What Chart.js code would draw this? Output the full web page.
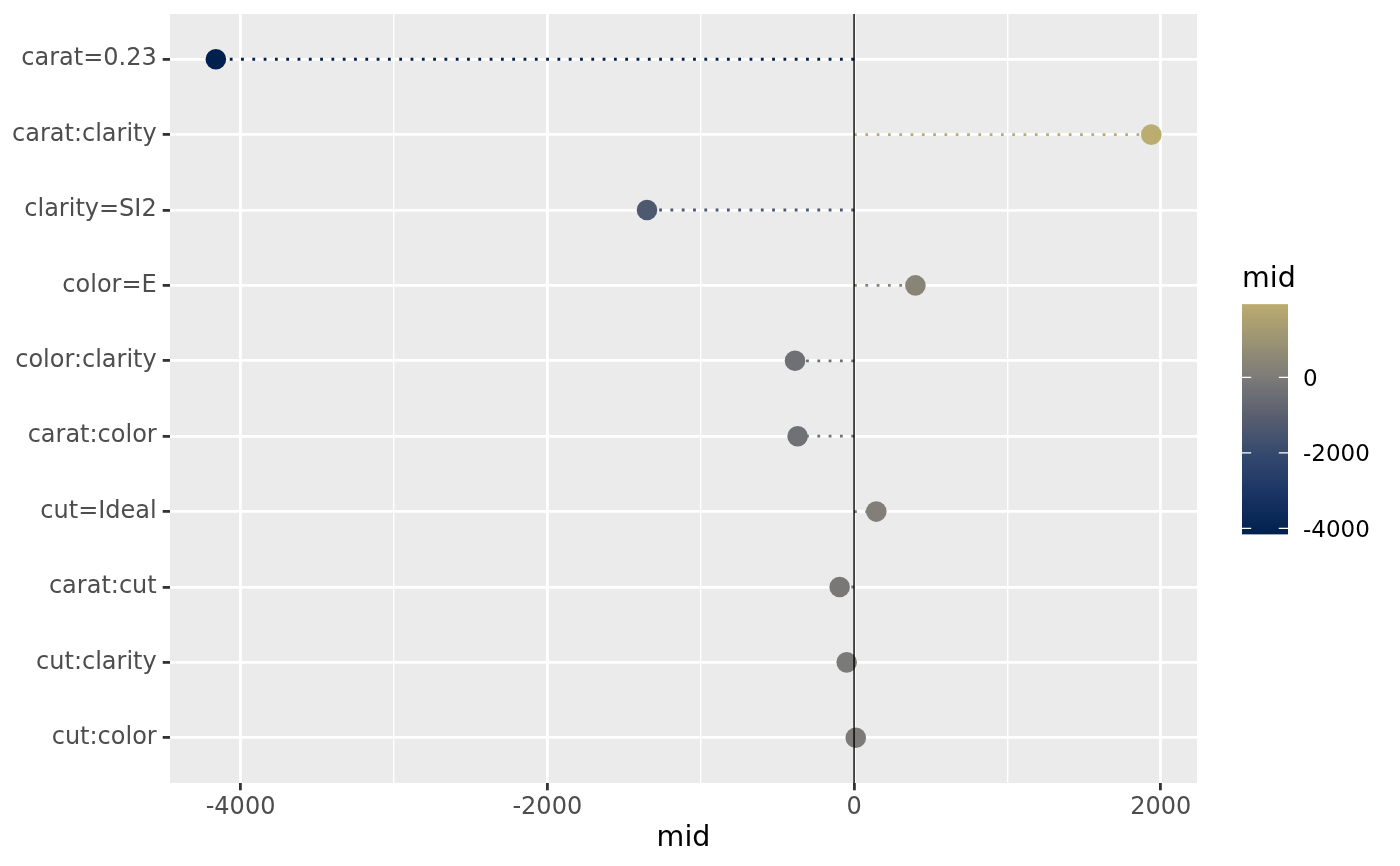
<!DOCTYPE html>
<html>
<head>
<meta charset="utf-8">
<script src="https://cdn.jsdelivr.net/npm/chart.js@4.4.1/dist/chart.umd.min.js"></script>
<style>
html,body{margin:0;padding:0;background:#ffffff;}
#wrap{width:1400px;height:866px;}
</style>
</head>
<body>
<div id="wrap"><canvas id="c" width="1400" height="866"></canvas></div>
<script>
// ---- data ----
const categories = ["carat=0.23","carat:clarity","clarity=SI2","color=E","color:clarity","carat:color","cut=Ideal","carat:cut","cut:clarity","cut:color"];
const midValues = [-4161, 1938, -1350, 400, -385, -368, 145, -94, -48, 11];
const xTickValues = [-4000, -2000, 0, 2000];
const xMinorValues = [-3000, -1000, 1000];
const legendTickValues = [0, -2000, -4000];
const legendTitle = "mid";
const xTitle = "mid";

// ---- colour scale (diverging around 0) ----
const colorStops = [
  [-4161, '#00204D'],
  [-3000, '#1C3665'],
  [-2000, '#354A6E'],
  [-1000, '#5B5F6F'],
  [0, '#7C7B78'],
  [1000, '#9C9473'],
  [1938, '#BBAC6F']
];
function hexToRgb(h){h=h.replace('#','');return [parseInt(h.slice(0,2),16),parseInt(h.slice(2,4),16),parseInt(h.slice(4,6),16)];}
function colorFor(v){
  if (v <= colorStops[0][0]) return colorStops[0][1];
  for (let i=1;i<colorStops.length;i++){
    if (v <= colorStops[i][0]){
      const [v0,c0]=colorStops[i-1],[v1,c1]=colorStops[i];
      const t=(v-v0)/(v1-v0), a=hexToRgb(c0), b=hexToRgb(c1);
      const r=a.map((x,k)=>Math.round(x+(b[k]-x)*t));
      return 'rgb('+r.join(',')+')';
    }
  }
  return colorStops[colorStops.length-1][1];
}

const FONT = "'DejaVu Sans', sans-serif";
const TICK_FONT = 24;
const TITLE_FONT = 28.5;

const pointData = categories.map((c,i)=>({x: midValues[i], y: i}));
const segmentDatasets = categories.map((c,i)=>({
  type: 'scatter',
  showLine: true,
  data: [{x: 0, y: i}, {x: midValues[i], y: i}],
  borderColor: colorFor(midValues[i]),
  borderWidth: 2.8,
  borderDash: [2.8, 8.5],
  borderCapStyle: 'butt',
  pointRadius: 0,
  fill: false,
  order: 2
}));

const panelBg = {
  id: 'panelBg',
  beforeDraw(chart){
    const {ctx, chartArea:a} = chart;
    ctx.save();
    ctx.fillStyle = '#ffffff';
    ctx.fillRect(0,0,chart.width,chart.height);
    ctx.fillStyle = '#EBEBEB';
    ctx.fillRect(a.left, a.top, a.right-a.left, a.bottom-a.top);
    ctx.restore();
  }
};

const extras = {
  id: 'extras',
  afterDraw(chart){
    const {ctx, chartArea:a} = chart;
    ctx.save();
    // x axis title
    ctx.fillStyle = '#000000';
    ctx.font = TITLE_FONT + 'px ' + FONT;
    ctx.textAlign = 'center';
    ctx.textBaseline = 'alphabetic';
    ctx.fillText(xTitle, (a.left + a.right)/2, 846);

    // colour bar legend
    const barLeft = 1242, barW = 46;
    const zeroY = 377.3, pxPerUnit = 75.5/2000;
    const vMin = Math.min(...midValues), vMax = Math.max(...midValues);
    const yTop = zeroY - vMax*pxPerUnit, yBot = zeroY - vMin*pxPerUnit;
    const g = ctx.createLinearGradient(0, yBot, 0, yTop);
    const n = 40;
    for (let k=0;k<=n;k++){
      const v = vMin + (vMax-vMin)*k/n;
      g.addColorStop(k/n, colorFor(v));
    }
    ctx.fillStyle = g;
    ctx.fillRect(barLeft, yTop, barW, yBot-yTop);

    ctx.strokeStyle = '#ffffff';
    ctx.lineWidth = 1.2;
    ctx.font = '23px ' + FONT;
    ctx.textAlign = 'left';
    ctx.textBaseline = 'alphabetic';
    legendTickValues.forEach(v=>{
      const y = zeroY - v*pxPerUnit;
      ctx.beginPath();
      ctx.moveTo(barLeft, y); ctx.lineTo(barLeft+9.2, y);
      ctx.moveTo(barLeft+barW-9.2, y); ctx.lineTo(barLeft+barW, y);
      ctx.stroke();
      ctx.fillStyle = '#000000';
      ctx.fillText(String(v), 1303, y + 0.3645*23);
    });

    ctx.fillStyle = '#000000';
    ctx.font = TITLE_FONT + 'px ' + FONT;
    ctx.fillText(legendTitle, barLeft, 287);
    ctx.restore();
  }
};

new Chart(document.getElementById('c'), {
  type: 'scatter',
  data: {
    datasets: [
      {
        type: 'scatter',
        showLine: true,
        data: [{x: 0, y: -0.6}, {x: 0, y: 9.6}],
        borderColor: '#000000',
        borderWidth: 1.4,
        pointRadius: 0,
        order: 0
      },
      {
        type: 'scatter',
        data: pointData,
        pointRadius: 10.3,
        pointHoverRadius: 10.3,
        pointBackgroundColor: midValues.map(colorFor),
        pointBorderWidth: 0,
        borderWidth: 0,
        order: 1
      },
      ...segmentDatasets
    ]
  },
  options: {
    responsive: false,
    devicePixelRatio: 1,
    animation: false,
    layout: { padding: { top: 14, right: 203, bottom: 0, left: 0 } },
    plugins: { legend: { display: false }, tooltip: { enabled: false } },
    events: [],
    scales: {
      x: {
        type: 'linear',
        min: -4460,
        max: 2236,
        afterBuildTicks: s => { s.ticks = xTickValues.concat(xMinorValues).sort((a,b)=>a-b).map(v=>({value: v})); },
        afterFit: s => { s.height = 83; s.paddingLeft = 0; s.paddingRight = 0; },
        border: { display: false },
        grid: {
          color: '#ffffff',
          lineWidth: c => (xTickValues.includes(c.tick.value) ? 2.8 : 1.4),
          tickColor: c => (xTickValues.includes(c.tick.value) ? '#333333' : 'rgba(0,0,0,0)'),
          tickWidth: 2.8,
          tickLength: 7.3,
          drawTicks: true
        },
        ticks: {
          autoSkip: false,
          maxRotation: 0,
          padding: 3,
          color: '#4D4D4D',
          font: { family: FONT, size: TICK_FONT },
          callback: v => (xTickValues.includes(v) ? String(v) : '')
        }
      },
      y: {
        type: 'linear',
        min: -0.6,
        max: 9.6,
        reverse: true,
        afterBuildTicks: s => { s.ticks = categories.map((c,i)=>({value: i})); },
        afterFit: s => { s.width = 170; s.paddingTop = 0; s.paddingBottom = 0; },
        border: { display: false },
        grid: {
          color: '#ffffff',
          lineWidth: 2.8,
          tickColor: '#333333',
          tickWidth: 2.8,
          tickLength: 7.3
        },
        ticks: {
          autoSkip: false,
          padding: 6,
          color: '#4D4D4D',
          font: { family: FONT, size: TICK_FONT },
          callback: v => categories[v]
        }
      }
    }
  },
  plugins: [panelBg, extras]
});
</script>
</body>
</html>
